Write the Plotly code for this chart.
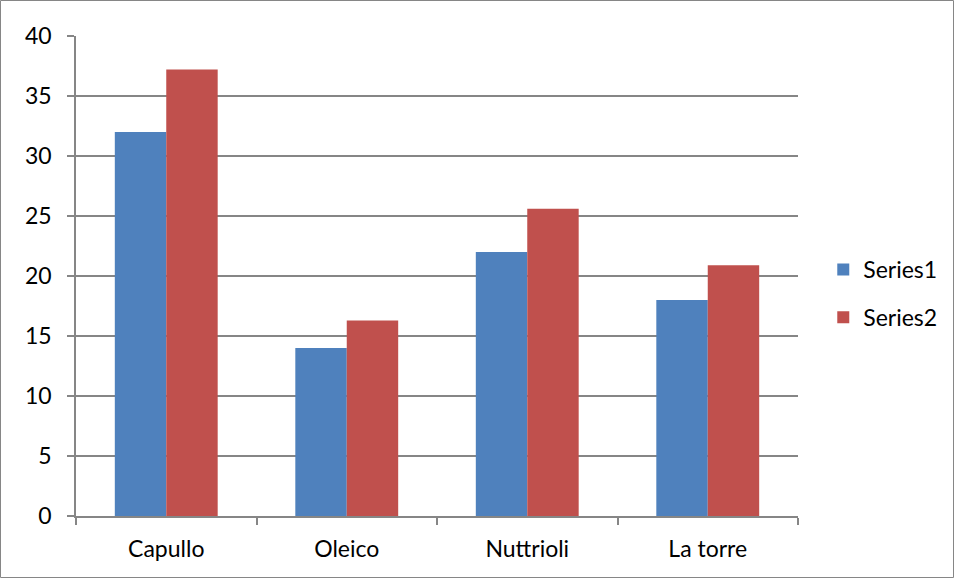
import plotly.graph_objects as go

categories = ["Capullo", "Oleico", "Nuttrioli", "La torre"]
series1 = [32, 14, 22, 18]
series2 = [37.2, 16.3, 25.6, 20.9]
series_names = ["Series1", "Series2"]
colors = ["#4F81BD", "#C0504D"]

W, H = 954, 578
L, R, T, B = 76, 156, 36, 62
pw, ph = W - L - R, H - T - B

fig = go.Figure()
for name, vals, col in zip(series_names, [series1, series2], colors):
    fig.add_trace(go.Bar(x=categories, y=vals, name=name, marker_color=col,
                         marker_line_width=0, legendgroup=name))

grid = "#868686"
fig.update_layout(
    width=W, height=H,
    margin=dict(l=L, r=R, t=T, b=B, autoexpand=False),
    paper_bgcolor="white", plot_bgcolor="white",
    font=dict(family="Lato, Open Sans, sans-serif", size=23, color="black"),
    barmode="group", bargap=0.43, bargroupgap=0,
    showlegend=True,
    legend=dict(x=1.035, y=0.4635, xanchor="left", yanchor="middle",
                traceorder="grouped", tracegroupgap=15,
                font=dict(size=23), itemwidth=30),
    xaxis=dict(showline=True, linecolor=grid, linewidth=1.5, ticks="outside",
               tickson="boundaries", ticklen=7, tickcolor=grid, tickwidth=1.5,
               showgrid=False, ticklabelstandoff=12),
    yaxis=dict(range=[0, 40], dtick=5, showline=True, linecolor=grid, linewidth=1.5,
               ticks="outside", ticklen=7, tickcolor=grid, tickwidth=1.5,
               showgrid=True, gridcolor=grid, gridwidth=1.5, zeroline=False,
               ticklabelstandoff=11),
    shapes=[dict(type="rect", xref="paper", yref="paper",
                 x0=-(L - 0.5) / pw, x1=(W - 0.5 - L) / pw,
                 y0=-(B - 0.5) / ph, y1=(H - 0.5 - B) / ph,
                 line=dict(color="#868686", width=1), fillcolor="rgba(0,0,0,0)",
                 layer="below")],
)

fig.write_html("out.html", config={"displayModeBar": False},
               post_script="document.body.style.margin='0px';")
